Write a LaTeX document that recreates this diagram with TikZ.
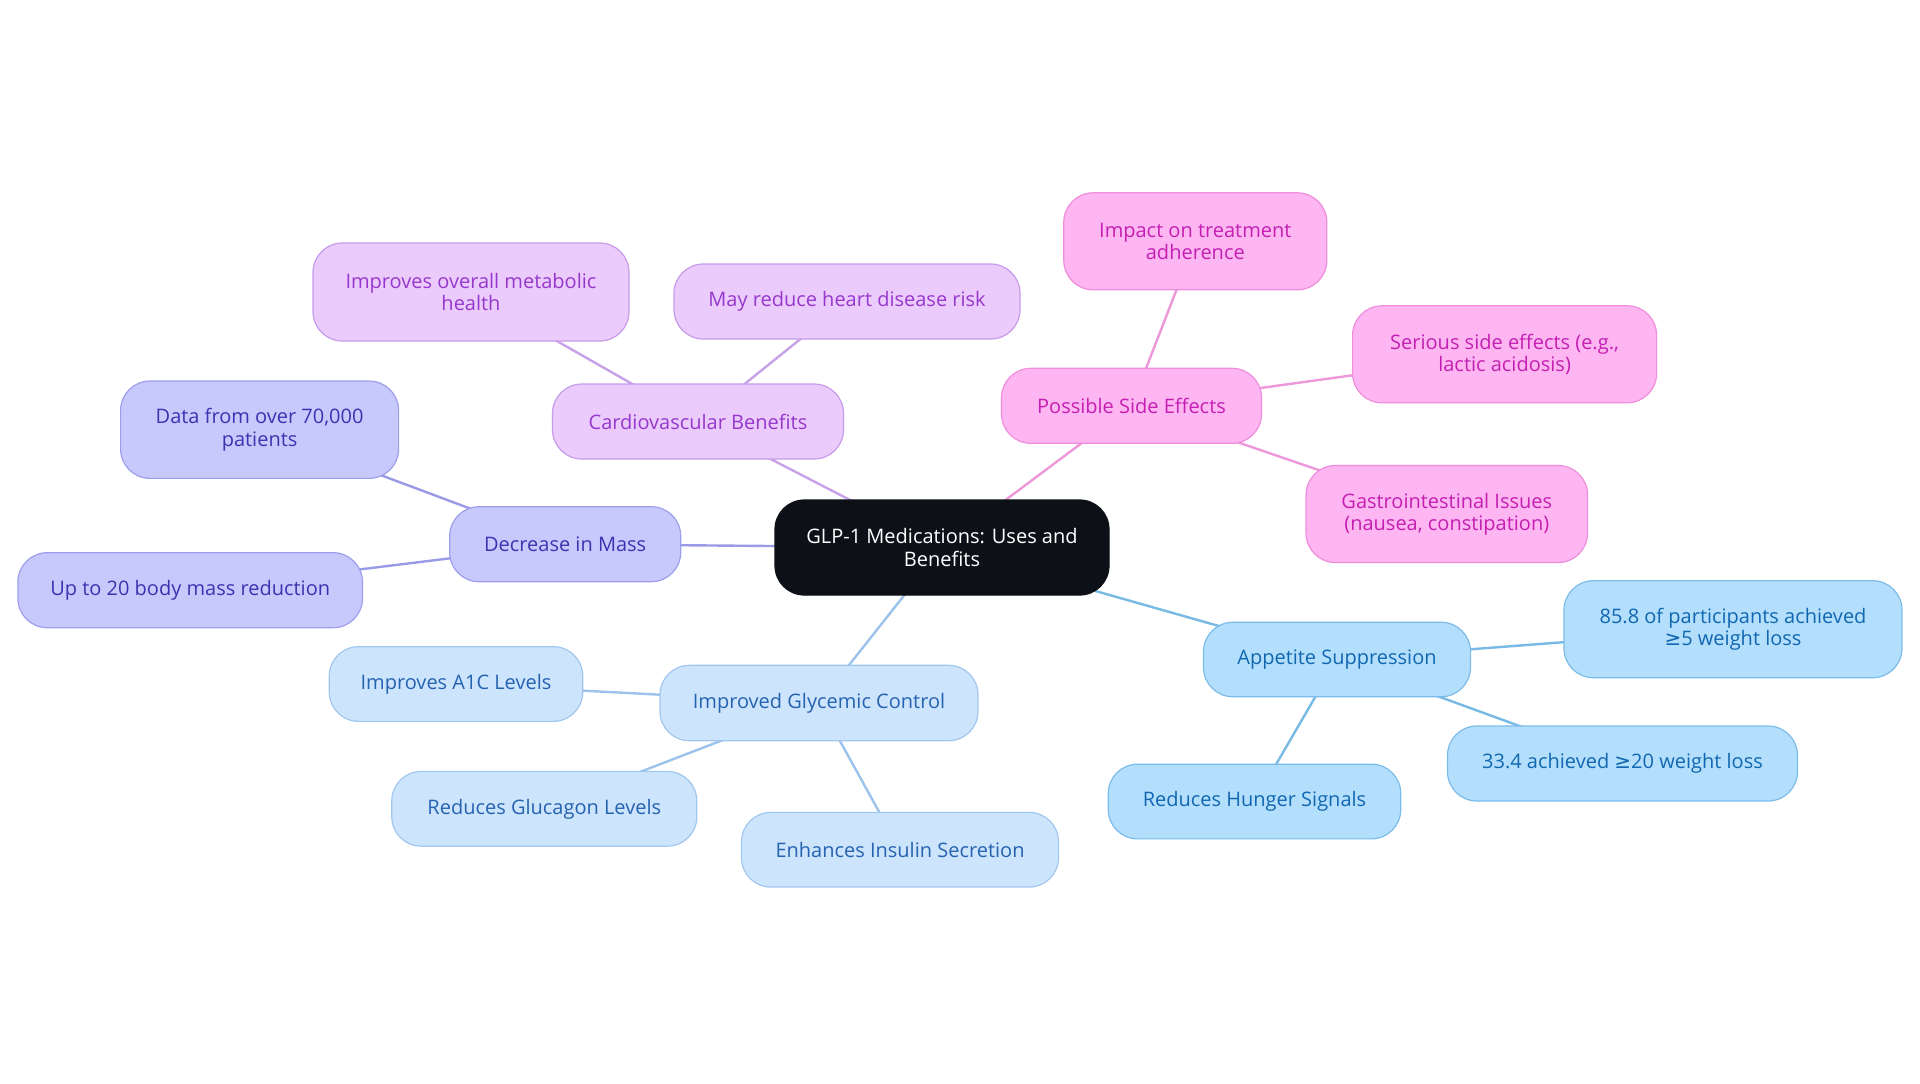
\documentclass[tikz,border=0pt]{standalone}
\usepackage{fontspec}
\setmainfont{Open Sans}
\newfontfamily\symfont{DejaVu Sans}
\usetikzlibrary{backgrounds}
\definecolor{pufill}{HTML}{EBCBFC}
\definecolor{pudraw}{HTML}{C69CEA}
\definecolor{putext}{HTML}{9638CC}
\definecolor{puedge}{HTML}{C7A2E8}
\definecolor{pifill}{HTML}{FDB6F1}
\definecolor{pidraw}{HTML}{F08EDD}
\definecolor{pitext}{HTML}{C41FB2}
\definecolor{piedge}{HTML}{EC98DA}
\definecolor{infill}{HTML}{C7C9FD}
\definecolor{indraw}{HTML}{9D9EEC}
\definecolor{intext}{HTML}{3A34B0}
\definecolor{inedge}{HTML}{9A9BE6}
\definecolor{lbfill}{HTML}{CDE4FD}
\definecolor{lbdraw}{HTML}{A2C7EF}
\definecolor{lbtext}{HTML}{2563B0}
\definecolor{lbedge}{HTML}{9CC3EB}
\definecolor{sbfill}{HTML}{B3DFFC}
\definecolor{sbdraw}{HTML}{7CBCEA}
\definecolor{sbtext}{HTML}{1167B1}
\definecolor{sbedge}{HTML}{79BAE5}
\definecolor{ctfill}{HTML}{0D1117}
\tikzset{
  x=0.75pt, y=-0.75pt,
  mbox/.style 2 args={rectangle, rounded corners=22pt, line width=0.9pt,
    align=center, inner sep=2pt, font=\fontsize{15}{16.8}\selectfont,
    minimum width={#1*0.75pt}, minimum height={#2*0.75pt}},
  brpu/.style={fill=pufill, draw=pudraw, text=putext},
  brpi/.style={fill=pifill, draw=pidraw, text=pitext},
  brin/.style={fill=infill, draw=indraw, text=intext},
  brlb/.style={fill=lbfill, draw=lbdraw, text=lbtext},
  brsb/.style={fill=sbfill, draw=sbdraw, text=sbtext},
  brct/.style={fill=ctfill, draw=ctfill, text=white},
  conn/.style={line width=1.8pt},
}
\begin{document}
\begin{tikzpicture}
\useasboundingbox (0,0) rectangle (1920,1083);
% center
\node[mbox={334}{95}, brct] (c) at (942,547.5) {GLP-1 Medications: Uses and\\Benefits};
% purple
\node[mbox={291}{75}, brpu] (cardio) at (698,421.5) {Cardiovascular Benefits};
\node[mbox={316}{98}, brpu] (metab) at (471,292) {Improves overall metabolic\\health};
\node[mbox={346}{75}, brpu] (heart) at (847,301.5) {May reduce heart disease risk};
% pink
\node[mbox={260}{75}, brpi] (side) at (1131.5,405.8) {Possible Side Effects};
\node[mbox={263}{97}, brpi] (adher) at (1195.3,241.3) {Impact on treatment\\adherence};
\node[mbox={304}{97}, brpi] (serious) at (1504.6,354.3) {Serious side effects (e.g.,\\lactic acidosis)};
\node[mbox={281.5}{97}, brpi] (gastro) at (1446.8,514) {Gastrointestinal Issues\\(nausea, constipation)};
% sky blue
\node[mbox={267}{74.5}, brsb] (appet) at (1337,659.5) {Appetite Suppression};
\node[mbox={338}{97}, brsb] (p858) at (1733,629.2) {85.8 of participants achieved\\{\symfont ≥}5 weight loss};
\node[mbox={350}{75}, brsb] (p334) at (1622.5,763.5) {33.4 achieved {\symfont ≥}20 weight loss};
\node[mbox={292.5}{74.7}, brsb] (hunger) at (1254.5,801.5) {Reduces Hunger Signals};
% light blue
\node[mbox={318}{75.4}, brlb] (glyc) at (819,703) {Improved Glycemic Control};
\node[mbox={253.5}{74.7}, brlb] (aonec) at (456,684) {Improves A1C Levels};
\node[mbox={305}{74.7}, brlb] (gluc) at (544.3,808.8) {Reduces Glucagon Levels};
\node[mbox={317}{74.7}, brlb] (insul) at (900,849.7) {Enhances Insulin Secretion};
% indigo
\node[mbox={231}{75}, brin] (mass) at (565.2,544.2) {Decrease in Mass};
\node[mbox={278}{97.3}, brin] (data) at (259.6,429.7) {Data from over 70,000\\patients};
\node[mbox={344.6}{75}, brin] (upto) at (190.2,590.2) {Up to 20 body mass reduction};
\begin{pgfonlayer}{background}
\fill[white] (0,0) rectangle (1920,1083);
\draw[conn, puedge] (c.center) -- (cardio.center);
\draw[conn, puedge] (cardio.center) -- (metab.center);
\draw[conn, puedge] (cardio.center) -- (heart.center);
\draw[conn, piedge] (c.center) -- (side.center);
\draw[conn, piedge] (side.center) -- (adher.center);
\draw[conn, piedge] (side.center) -- (serious.center);
\draw[conn, piedge] (side.center) -- (gastro.center);
\draw[conn, sbedge] (c.center) -- (appet.center);
\draw[conn, sbedge] (appet.center) -- (p858.center);
\draw[conn, sbedge] (appet.center) -- (p334.center);
\draw[conn, sbedge] (appet.center) -- (hunger.center);
\draw[conn, lbedge] (c.center) -- (glyc.center);
\draw[conn, lbedge] (glyc.center) -- (aonec.center);
\draw[conn, lbedge] (glyc.center) -- (gluc.center);
\draw[conn, lbedge] (glyc.center) -- (insul.center);
\draw[conn, inedge] (c.center) -- (mass.center);
\draw[conn, inedge] (mass.center) -- (data.center);
\draw[conn, inedge] (mass.center) -- (upto.center);
\end{pgfonlayer}
\end{tikzpicture}
\end{document}
